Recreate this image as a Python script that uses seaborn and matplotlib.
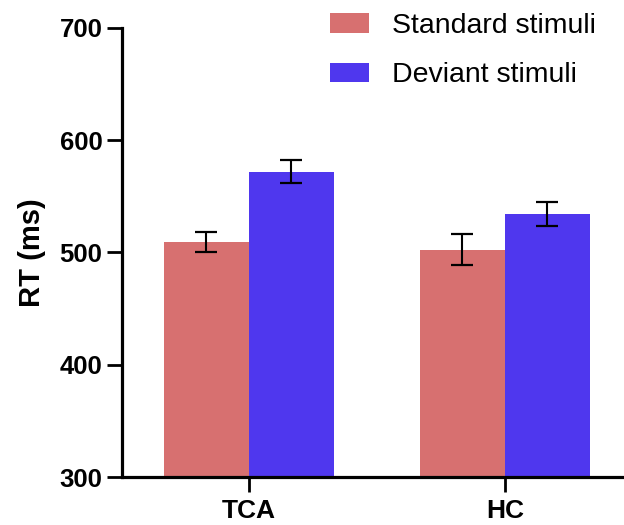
import pandas as pd
import seaborn as sns
import matplotlib.pyplot as plt

groups = ['TCA', 'HC']
conditions = ['Standard stimuli', 'Deviant stimuli']
standard_rt = [509.5, 502.5]
deviant_rt = [572.0, 534.5]
standard_err = [9.0, 14.0]
deviant_err = [10.0, 10.5]
bar_colors = ['#D77070', '#4F37EE']

df = pd.DataFrame({
    'group': groups * 2,
    'condition': [conditions[0]] * 2 + [conditions[1]] * 2,
    'rt': standard_rt + deviant_rt,
})
errs = [standard_err, deviant_err]

sns.set_style('white')
plt.rcParams['font.family'] = ['Liberation Sans', 'DejaVu Sans']
plt.rcParams.update({'text.color': 'black', 'axes.labelcolor': 'black',
                     'xtick.color': 'black', 'ytick.color': 'black'})

fig = plt.figure(figsize=(6.24, 5.25), dpi=100)
ax = fig.add_axes([0.1955, 0.0914, 0.8045, 0.8553])

sns.barplot(data=df, x='group', y='rt', hue='condition', hue_order=conditions,
            palette=bar_colors, saturation=1, width=0.664, errorbar=None,
            linewidth=0, ax=ax)

# error bars from the bar centres
for cont, e in zip(ax.containers, errs):
    xs = [b.get_x() + b.get_width() / 2 for b in cont]
    hs = [b.get_height() for b in cont]
    ax.errorbar(xs, hs, yerr=e, fmt='none', ecolor='black',
                elinewidth=1.5, capsize=7.8, capthick=1.6, zorder=5)

ax.set_ylim(300, 700)
ax.set_yticks([300, 400, 500, 600, 700])
ax.set_xlim(-0.496, 1.465)
ax.set_xlabel('')
ax.set_ylabel('RT (ms)', fontsize=21, fontweight='bold', labelpad=10)

for s in ['top', 'right']:
    ax.spines[s].set_visible(False)
for s in ['left', 'bottom']:
    ax.spines[s].set_linewidth(2.3)
    ax.spines[s].set_color('black')

ax.tick_params(axis='both', which='major', length=11, width=2, color='black',
               left=True, bottom=True)
ax.tick_params(axis='y', labelsize=18.5, pad=3)
ax.tick_params(axis='x', labelsize=19, pad=5)
for lbl in ax.get_xticklabels() + ax.get_yticklabels():
    lbl.set_fontweight('bold')

handles, labels = ax.get_legend_handles_labels()
ax.get_legend().remove()
fig.legend(handles, labels, loc='upper left', bbox_to_anchor=(0.529, 0.975),
           frameon=False, fontsize=20.5, handlelength=1.37, handleheight=0.67,
           handletextpad=0.8, labelspacing=0.82, borderpad=0, borderaxespad=0)

fig.savefig('out.png', dpi=100)
